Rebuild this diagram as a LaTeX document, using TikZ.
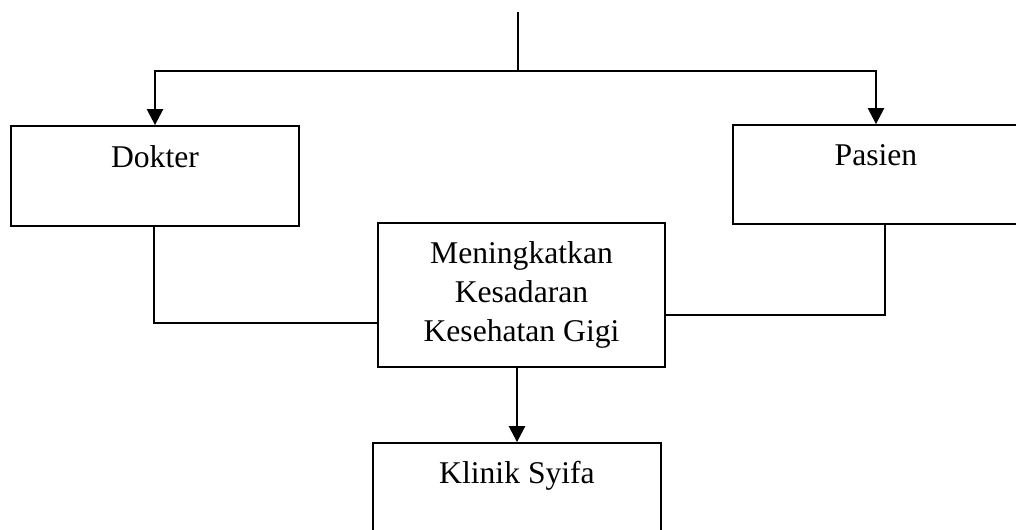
\documentclass[tikz,border=0pt]{standalone}
\usepackage{fontspec}
\setmainfont{Liberation Serif}
\usetikzlibrary{positioning}
\usetikzlibrary{arrows.meta}

\begin{document}
\begin{tikzpicture}[
    box/.style={draw, line width=1pt, inner sep=0pt, font=\fontsize{18}{22.2}\selectfont},
    arr/.style={line width=1.4pt, -{Triangle[length=3.2mm, width=3.2mm]}},
    link/.style={line width=0.8pt}
]
    \useasboundingbox (0, 0) rectangle (20.32, -10.6);
    \node[box, minimum width=5.76cm, text height=0.84cm, text depth=1.16cm] (dokter) at ( 3.10, -3.52) {Dokter};
    \node[box, minimum width=5.72cm, text height=0.82cm, text depth=1.16cm] (pasien) at (17.52, -3.49) {Pasien};
    \node[box, minimum width=5.74cm, minimum height=2.88cm, align=center] (tujuan) at (10.43, -5.90) {Meningkatkan\\Kesadaran\\Kesehatan Gigi};
    \node[box, minimum width=5.76cm, text height=0.80cm, text depth=1.20cm] (klinik) at (10.34, -9.86) {Klinik Syifa};
    \coordinate (atas)   at (10.36, -0.24);
    \coordinate (cabang) at (10.36, -1.42);
    \coordinate (dokterbawah) at ( 3.08, -6.46);
    \coordinate (pasienbawah) at (17.70, -6.30);
    \draw[line width=1.1pt] (atas) -- (cabang);
    \draw[arr] (cabang) -| (dokter.north);
    \draw[arr] (cabang) -| (pasien.north);
    \draw[link] (dokter.south -| dokterbawah) -- (dokterbawah) -- (dokterbawah -| tujuan.west);
    \draw[link] (pasien.south -| pasienbawah) -- (pasienbawah) -- (pasienbawah -| tujuan.east);
    \draw[arr] (tujuan.south -| klinik.north) -- (klinik.north);
\end{tikzpicture}
\end{document}
